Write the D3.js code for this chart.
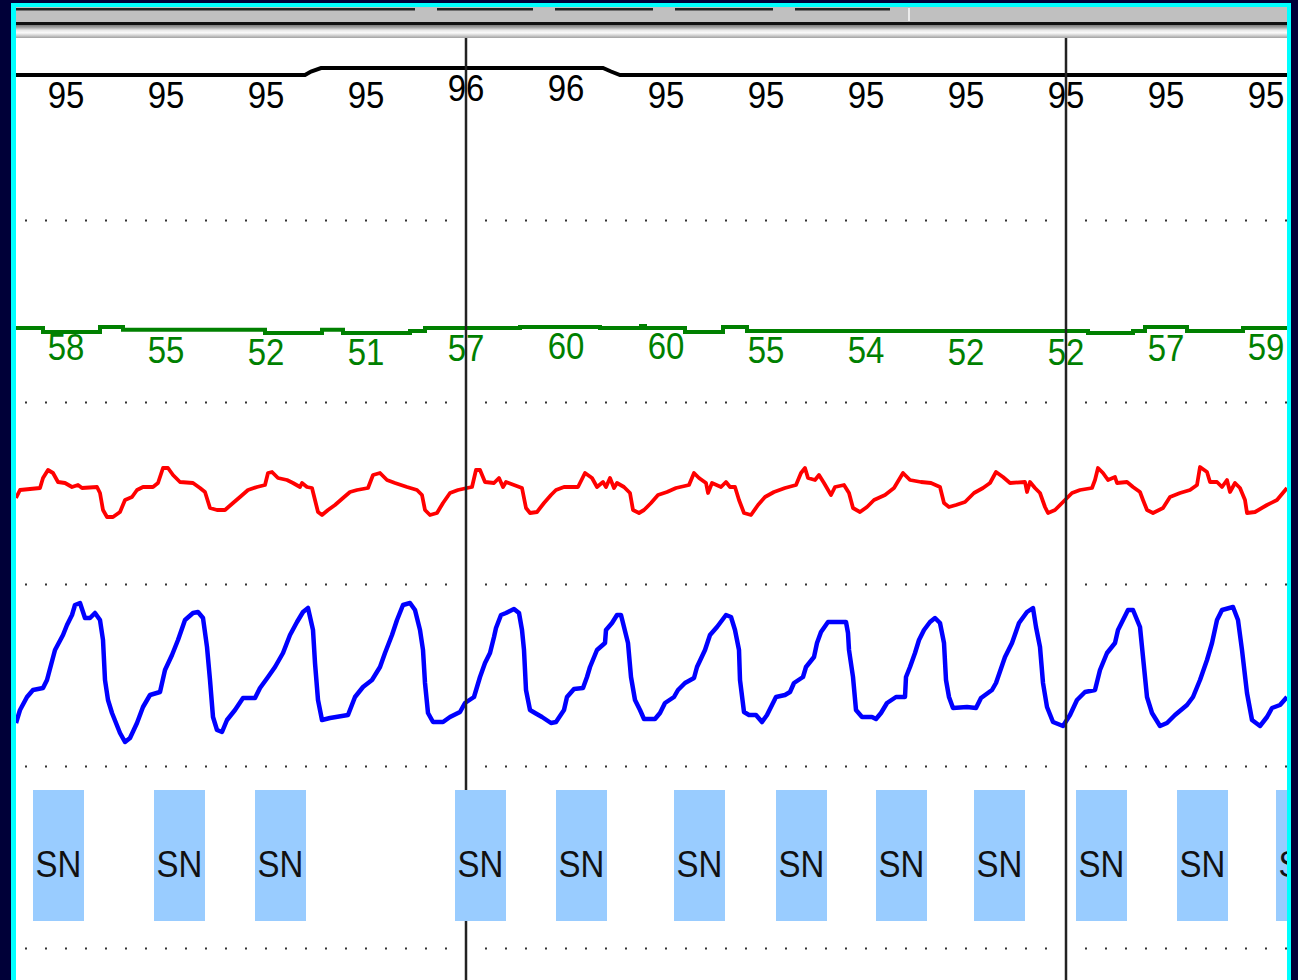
<!DOCTYPE html>
<html>
<head>
<meta charset="utf-8">
<script src="https://cdn.jsdelivr.net/npm/d3@7/dist/d3.min.js"></script>
<style>
  html, body { margin: 0; padding: 0; background: #000038; overflow: hidden; }
  svg { display: block; }
  .lbl { font-family: "Liberation Sans", Arial, sans-serif; font-size: 33px; }
</style>
</head>
<body>
<svg id="chart" width="1298" height="980"></svg>
<script>
// time in seconds, values in channel units
var spo2Trend = [[0, 95], [2.89, 95], [2.95, 95.5], [3.05, 96], [5.87, 96], [5.95, 95.5], [6.04, 95], [12.71, 95]];
var spo2Labels = [95, 95, 95, 95, 96, 96, 95, 95, 95, 95, 95, 95, 95];

var hrTrend = [[0, 57], [0.27, 51.5], [0.84, 58.5], [1.07, 54.5], [2.49, 50], [3.06, 54.5], [3.27, 50],
  [3.94, 53], [4.09, 57], [5.04, 58.5], [5.84, 57], [6.25, 60], [6.29, 57], [6.69, 51.5], [7.07, 58.5],
  [7.31, 53], [10.72, 50], [11.17, 53], [11.29, 58.5], [11.71, 53], [12.27, 57], [12.71, 57]];
var hrLabels = [58, 55, 52, 51, 57, 60, 60, 55, 54, 52, 52, 57, 59];

var redWave = [[0.00, 27], [0.04, 35], [0.24, 37], [0.27, 47], [0.32, 55], [0.37, 52], [0.42, 43], [0.49, 42],
  [0.56, 38], [0.62, 40], [0.66, 37], [0.81, 38], [0.84, 32], [0.87, 15], [0.91, 8], [0.97, 8], [1.04, 13],
  [1.09, 25], [1.16, 28], [1.21, 35], [1.27, 38], [1.37, 38], [1.42, 42], [1.47, 57], [1.52, 57], [1.57, 50],
  [1.64, 43], [1.77, 42], [1.84, 37], [1.89, 33], [1.94, 17], [2.01, 15], [2.09, 15], [2.17, 22], [2.24, 28],
  [2.32, 35], [2.41, 38], [2.49, 40], [2.52, 52], [2.56, 53], [2.62, 47], [2.71, 45], [2.77, 42], [2.84, 38],
  [2.86, 42], [2.91, 38], [2.96, 37], [2.99, 25], [3.02, 13], [3.06, 10], [3.12, 15], [3.19, 20], [3.27, 27],
  [3.34, 33], [3.41, 35], [3.52, 37], [3.57, 50], [3.64, 52], [3.71, 45], [3.79, 42], [3.91, 38], [4.01, 35],
  [4.06, 30], [4.09, 15], [4.14, 10], [4.21, 12], [4.27, 22], [4.34, 32], [4.42, 35], [4.51, 37], [4.56, 38],
  [4.60, 55], [4.64, 55], [4.69, 43], [4.78, 42], [4.83, 47], [4.87, 38], [4.90, 43], [4.98, 40], [5.06, 37],
  [5.10, 17], [5.14, 12], [5.21, 13], [5.28, 22], [5.35, 30], [5.40, 35], [5.48, 38], [5.62, 38], [5.69, 52],
  [5.76, 47], [5.81, 38], [5.87, 43], [5.90, 38], [5.94, 47], [5.98, 37], [6.01, 42], [6.08, 38], [6.14, 32],
  [6.17, 15], [6.23, 12], [6.28, 15], [6.35, 22], [6.42, 30], [6.51, 33], [6.60, 37], [6.73, 40], [6.78, 52],
  [6.83, 47], [6.90, 42], [6.92, 32], [6.96, 42], [7.05, 38], [7.10, 43], [7.14, 38], [7.19, 38], [7.23, 25],
  [7.28, 12], [7.35, 10], [7.42, 20], [7.49, 28], [7.58, 33], [7.69, 37], [7.80, 40], [7.85, 52], [7.89, 57],
  [7.92, 47], [7.99, 45], [8.03, 50], [8.08, 42], [8.15, 30], [8.19, 38], [8.28, 40], [8.33, 32], [8.37, 17],
  [8.44, 13], [8.51, 18], [8.58, 25], [8.69, 30], [8.78, 37], [8.87, 52], [8.94, 45], [9.05, 43], [9.15, 42],
  [9.24, 38], [9.28, 22], [9.33, 18], [9.40, 20], [9.49, 23], [9.58, 32], [9.67, 37], [9.74, 42], [9.80, 53],
  [9.87, 48], [9.94, 42], [10.09, 43], [10.11, 33], [10.14, 43], [10.19, 37], [10.24, 32], [10.29, 18],
  [10.32, 12], [10.39, 15], [10.47, 23], [10.56, 32], [10.64, 35], [10.76, 37], [10.79, 45], [10.82, 57],
  [10.87, 52], [10.92, 45], [10.99, 48], [11.01, 42], [11.11, 43], [11.17, 38], [11.24, 33], [11.27, 25],
  [11.31, 15], [11.37, 12], [11.47, 17], [11.54, 28], [11.64, 32], [11.74, 35], [11.81, 40], [11.84, 58],
  [11.91, 53], [11.94, 43], [12.01, 43], [12.06, 38], [12.11, 45], [12.14, 33], [12.19, 42], [12.24, 37],
  [12.29, 25], [12.31, 12], [12.39, 13], [12.51, 20], [12.61, 25], [12.71, 37]];

var blueWave = [[0.00, 27], [0.04, 40], [0.11, 53], [0.17, 60], [0.27, 62], [0.31, 70], [0.39, 100], [0.47, 115],
  [0.51, 125], [0.56, 135], [0.59, 145], [0.64, 147], [0.69, 132], [0.74, 132], [0.79, 137], [0.84, 130],
  [0.87, 110], [0.89, 70], [0.92, 50], [0.96, 37], [1.04, 17], [1.09, 8], [1.14, 12], [1.21, 27], [1.27, 43],
  [1.34, 55], [1.44, 58], [1.49, 80], [1.56, 95], [1.62, 110], [1.69, 130], [1.77, 137], [1.82, 138],
  [1.87, 132], [1.91, 103], [1.94, 70], [1.97, 33], [2.01, 20], [2.06, 18], [2.11, 30], [2.19, 40], [2.27, 52],
  [2.39, 52], [2.44, 62], [2.52, 73], [2.59, 83], [2.67, 97], [2.74, 115], [2.81, 128], [2.87, 138],
  [2.92, 142], [2.97, 120], [2.99, 87], [3.02, 50], [3.06, 30], [3.14, 32], [3.32, 35], [3.39, 53], [3.47, 63],
  [3.56, 70], [3.64, 83], [3.69, 97], [3.76, 115], [3.81, 130], [3.87, 145], [3.94, 147], [3.99, 140],
  [4.04, 120], [4.07, 100], [4.09, 67], [4.12, 37], [4.17, 28], [4.27, 28], [4.34, 33], [4.44, 38], [4.49, 47],
  [4.58, 53], [4.64, 73], [4.69, 87], [4.74, 97], [4.78, 113], [4.80, 122], [4.85, 135], [4.90, 137],
  [4.98, 141], [5.03, 137], [5.06, 120], [5.08, 100], [5.10, 60], [5.14, 40], [5.19, 37], [5.26, 33],
  [5.35, 27], [5.40, 28], [5.48, 40], [5.51, 53], [5.58, 61], [5.67, 62], [5.71, 73], [5.74, 83], [5.81, 100],
  [5.89, 107], [5.90, 120], [5.96, 127], [6.01, 135], [6.05, 135], [6.08, 123], [6.12, 107], [6.15, 73],
  [6.19, 50], [6.24, 40], [6.28, 31], [6.39, 31], [6.44, 37], [6.49, 47], [6.58, 53], [6.62, 60], [6.69, 67],
  [6.78, 72], [6.81, 83], [6.89, 100], [6.94, 115], [7.01, 123], [7.10, 135], [7.15, 133], [7.19, 120],
  [7.23, 100], [7.24, 70], [7.28, 38], [7.33, 35], [7.40, 35], [7.46, 28], [7.51, 35], [7.55, 43], [7.60, 53],
  [7.69, 55], [7.74, 58], [7.78, 67], [7.87, 73], [7.90, 83], [7.98, 93], [8.01, 107], [8.05, 118],
  [8.12, 128], [8.30, 128], [8.32, 117], [8.33, 100], [8.37, 73], [8.40, 40], [8.46, 33], [8.56, 33],
  [8.60, 31], [8.65, 37], [8.71, 47], [8.80, 53], [8.89, 53], [8.90, 73], [8.94, 83], [8.99, 97], [9.03, 110],
  [9.08, 120], [9.14, 128], [9.19, 132], [9.24, 127], [9.28, 107], [9.30, 70], [9.33, 53], [9.37, 42],
  [9.51, 43], [9.60, 42], [9.65, 52], [9.76, 60], [9.80, 67], [9.89, 93], [9.96, 107], [10.03, 127],
  [10.11, 138], [10.17, 142], [10.20, 123], [10.24, 103], [10.27, 67], [10.31, 43], [10.37, 28], [10.47, 24],
  [10.54, 35], [10.61, 50], [10.69, 58], [10.79, 60], [10.84, 80], [10.91, 97], [10.99, 107], [11.02, 120],
  [11.07, 130], [11.12, 140], [11.17, 140], [11.24, 123], [11.27, 93], [11.31, 53], [11.36, 37], [11.44, 24],
  [11.51, 27], [11.59, 35], [11.71, 45], [11.77, 53], [11.84, 70], [11.91, 90], [11.96, 107], [12.01, 130],
  [12.06, 140], [12.17, 143], [12.22, 130], [12.26, 100], [12.31, 57], [12.36, 30], [12.44, 24], [12.51, 33],
  [12.56, 42], [12.64, 45], [12.71, 53]];

var beatTimes = [0.17, 1.38, 2.39, 4.39, 5.40, 6.58, 7.60, 8.60, 9.58, 10.60, 11.61, 12.60];
var beatLabel = 'SN';
var beatWidth = 0.51;
var markerTimes = [4.5, 10.5];
var headerTabs = [[0, 3.99], [4.21, 5.17], [5.39, 6.37], [6.59, 7.57], [7.79, 8.74]];

var svg = d3.select('#chart');
var W = 1298, H = 980;
var left = 16, right = 1287, panelTop = 38;

var x = d3.scaleLinear().domain([0, 12.71]).range([left, right]);
var ySpo2 = d3.scaleLinear().domain([95, 96]).range([75, 68]);
var yHr = d3.scaleLinear().domain([50, 60]).range([333, 326]);
var yRed = d3.scaleLinear().domain([0, 60]).range([525, 465]);
var yBlue = d3.scaleLinear().domain([0, 150]).range([750, 600]);

// frame
svg.append('rect').attr('width', W).attr('height', H).attr('fill', '#000038');
svg.append('rect').attr('x', 11).attr('y', 3).attr('width', 1280).attr('height', H).attr('fill', '#00ffff');

// header strip
var grad = svg.append('defs').append('linearGradient').attr('id', 'hdr')
  .attr('x1', 0).attr('y1', 0).attr('x2', 0).attr('y2', 1);
[[0, '#7a7a7a'], [0.2, '#a8a8a8'], [0.4, '#e8e8e8'], [0.6, '#fafafa'], [0.8, '#d0d0d0'], [1, '#a0a0a0']]
  .forEach(function(s) { grad.append('stop').attr('offset', s[0]).attr('stop-color', s[1]); });

svg.append('clipPath').attr('id', 'panel').append('rect')
  .attr('x', left).attr('y', 7).attr('width', right - left).attr('height', H);

var frame = svg.append('g').attr('clip-path', 'url(#panel)');
frame.append('rect').attr('x', left).attr('y', 7).attr('width', right - left).attr('height', 16).attr('fill', '#c0c0c0');
frame.append('rect').attr('x', left).attr('y', 22).attr('width', right - left).attr('height', 3).attr('fill', '#101010');
frame.append('rect').attr('x', left).attr('y', 25).attr('width', right - left).attr('height', 13).attr('fill', 'url(#hdr)');
frame.selectAll('rect.tab').data(headerTabs).enter().append('rect')
  .attr('class', 'tab')
  .attr('x', function(d) { return x(d[0]); })
  .attr('y', 8)
  .attr('width', function(d) { return x(d[1]) - x(d[0]); })
  .attr('height', 2.5)
  .attr('fill', '#202020');
frame.append('rect').attr('x', 908).attr('y', 8).attr('width', 2).attr('height', 13).attr('fill', '#ececec');

frame.append('rect').attr('x', left).attr('y', panelTop).attr('width', right - left).attr('height', H - panelTop)
  .attr('fill', '#ffffff');

// dotted channel separators, every 0.2 s, broken at the markers
var dotTimes = d3.range(0.1, 12.75, 0.2).filter(function(t) {
  return markerTimes.every(function(m) { return Math.abs(t - m) > 0.05; });
});
var rowY = d3.range(5).map(function(i) { return 220.5 + 182 * i; });
rowY.forEach(function(ry) {
  frame.selectAll(null).data(dotTimes).enter().append('rect')
    .attr('x', function(t) { return x(t) - 1; })
    .attr('y', ry - 1)
    .attr('width', 2).attr('height', 2)
    .attr('fill', '#333');
});

// traces
var line = function(ys) {
  return d3.line().x(function(d) { return x(d[0]); }).y(function(d) { return ys(d[1]); });
};

frame.append('path').datum(spo2Trend)
  .attr('d', line(ySpo2))
  .attr('fill', 'none').attr('stroke', '#000').attr('stroke-width', 4);

frame.append('path').datum(hrTrend)
  .attr('d', line(yHr).curve(d3.curveStepAfter))
  .attr('fill', 'none').attr('stroke', '#008000').attr('stroke-width', 4);

frame.append('path').datum(redWave)
  .attr('d', line(yRed))
  .attr('fill', 'none').attr('stroke', '#ff0000').attr('stroke-width', 3.8)
  .attr('stroke-linejoin', 'round');

frame.append('path').datum(blueWave)
  .attr('d', line(yBlue))
  .attr('fill', 'none').attr('stroke', '#0000ff').attr('stroke-width', 4.5)
  .attr('stroke-linejoin', 'round');

// per-second numeric labels
function labels(values, ys, color) {
  frame.selectAll(null).data(values).enter().append('text')
    .attr('class', 'lbl')
    .attr('text-anchor', 'middle')
    .attr('fill', color)
    .attr('transform', function(v, i) {
      return 'translate(' + x(i + 0.5) + ',' + (ys(v) + 33) + ') scale(1,1.1)';
    })
    .text(function(v) { return v; });
}
labels(spo2Labels, ySpo2, '#000');
labels(hrLabels, yHr, '#008000');

// time markers
frame.selectAll('line.marker').data(markerTimes).enter().append('line')
  .attr('class', 'marker')
  .attr('x1', function(t) { return x(t); })
  .attr('x2', function(t) { return x(t); })
  .attr('y1', panelTop).attr('y2', H)
  .attr('stroke', '#222').attr('stroke-width', 2.5);

// beat annotations
var beats = frame.selectAll('g.beat').data(beatTimes).enter().append('g').attr('class', 'beat');
beats.append('rect')
  .attr('x', function(t) { return x(t); })
  .attr('y', 790)
  .attr('width', function(t) { return x(t + beatWidth) - x(t); })
  .attr('height', 131)
  .attr('fill', '#99ccff');
beats.append('text')
  .attr('class', 'lbl')
  .attr('text-anchor', 'middle')
  .attr('fill', '#111')
  .attr('transform', function(t) {
    return 'translate(' + x(t + beatWidth / 2) + ',877) scale(1,1.1)';
  })
  .text(beatLabel);
</script>
</body>
</html>
